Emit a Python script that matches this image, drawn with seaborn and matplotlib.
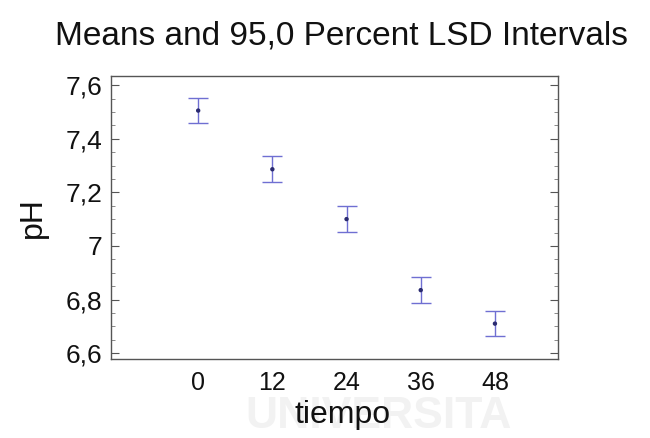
import matplotlib
matplotlib.use("Agg")
import matplotlib.pyplot as plt
import seaborn as sns
import pandas as pd
from matplotlib.ticker import FixedLocator, MultipleLocator, FixedFormatter

# pH means per sampling time with LSD half-widths
tiempo = [0, 12, 24, 36, 48]
ph_mean = [7.505, 7.286, 7.100, 6.835, 6.710]
lsd_half = [0.047, 0.049, 0.048, 0.048, 0.048]
y_ticks = [6.6, 6.8, 7.0, 7.2, 7.4, 7.6]
y_tick_labels = ["6,6", "6,8", "7", "7,2", "7,4", "7,6"]
x_tick_labels = ["0", "12", "24", "36", "48"]

df = pd.DataFrame({"tiempo": tiempo, "pH": ph_mean, "lsd": lsd_half})

sns.set_theme(style="white")
plt.rcParams["font.family"] = ["Liberation Sans", "DejaVu Sans"]

fig = plt.figure(figsize=(6.5, 4.38), dpi=100)
ax = fig.add_axes([111 / 650, 1 - 359 / 438, (558 - 111) / 650, (359 - 76) / 438])

bar_color = "#6f6fd2"
ax.errorbar(df["tiempo"], df["pH"], yerr=df["lsd"], fmt="none",
            ecolor=bar_color, elinewidth=1.0, capsize=7, capthick=1.0, zorder=2)
sns.scatterplot(data=df, x="tiempo", y="pH", ax=ax, color="#2a2a70",
                s=10, edgecolor="none", zorder=3, legend=False)

ax.set_xlim(-14.1, 58.2)
ax.set_ylim(6.578, 7.634)
ax.xaxis.set_major_locator(FixedLocator(tiempo))
ax.xaxis.set_major_formatter(FixedFormatter(x_tick_labels))
ax.yaxis.set_major_locator(FixedLocator(y_ticks))
ax.yaxis.set_major_formatter(FixedFormatter(y_tick_labels))
ax.yaxis.set_minor_locator(MultipleLocator(0.05))

ax.tick_params(axis="x", which="both", length=0, labelsize=18, pad=9, colors="#111111")
ax.tick_params(axis="y", which="major", direction="in", length=6, width=0.8,
               left=True, right=True, labelsize=19, pad=6,
               colors="#555555", labelcolor="#111111")
ax.tick_params(axis="y", which="minor", direction="in", length=3, width=0.6,
               left=True, right=True, colors="#777777")

for sp in ax.spines.values():
    sp.set_visible(True)
    sp.set_color("#555555")
    sp.set_linewidth(1.0)

ax.set_xlabel("tiempo", fontsize=23, color="#111111")
ax.xaxis.set_label_coords(0.519, -0.145)
ax.set_ylabel("pH", fontsize=23, labelpad=13, color="#111111")
fig.text(0.525, 1 - 36 / 438, "Means and 95,0 Percent LSD Intervals",
         ha="center", va="center", fontsize=24, color="#111111")

# faint background watermark
fig.text(245 / 650, 0.5 / 438, "UNIVERSITA", fontsize=32, fontweight="bold",
         color="#f2f2f2", ha="left", va="bottom", zorder=-10)

fig.savefig("out.png", dpi=100, facecolor="white")
